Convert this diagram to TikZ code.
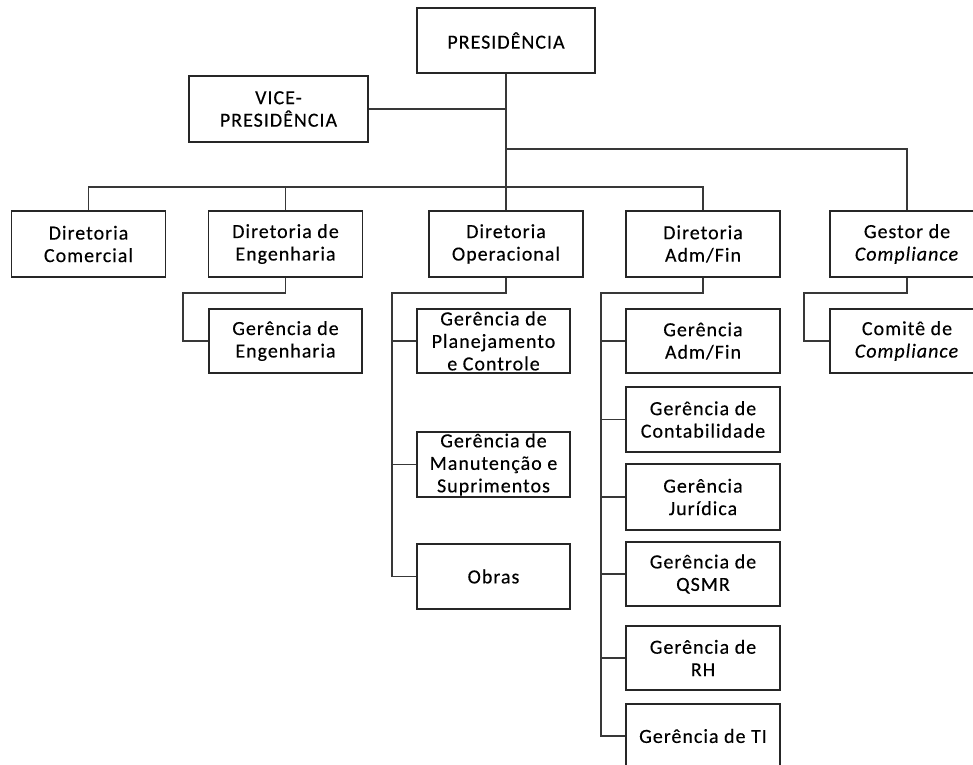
\documentclass[tikz,border=0pt]{standalone}
\usepackage{fontspec}
\setmainfont[LetterSpace=5,FakeBold=0.3]{Carlito}
\begin{document}
\begin{tikzpicture}[x=1pt,y=-1pt,
  box/.style={draw=black!85,line width=1.2pt,fill=white,align=center,inner sep=0pt,
    font=\fontsize{20}{22.5}\selectfont,minimum width=154,minimum height=65},
  conn/.style={draw=black!78,line width=1.1pt}]
\useasboundingbox (0,0) rectangle (973,764);
\begin{scope}
\clip (0,0) rectangle (973,764);
\fill[white] (0,0) rectangle (973,764);
% boxes
\node[box,minimum width=178,minimum height=65] (pres) at (506,40.5) {PRESIDÊNCIA};
\node[box,minimum width=179,minimum height=66] (vice) at (278.5,109) {VICE-\\PRESIDÊNCIA};
\node[box,minimum height=66] (dcom) at (88.5,244) {Diretoria\\Comercial};
\node[box,minimum height=66] (deng) at (285.5,244) {Diretoria de\\Engenharia};
\node[box,minimum height=66] (dop) at (506,244) {Diretoria\\Operacional};
\node[box,minimum height=66] (dadm) at (703,244) {Diretoria\\Adm/Fin};
\node[box,minimum height=66] (gest) at (907,244) {Gestor de\\\textit{Compliance}};
\node[box,minimum width=153,minimum height=64] (geng) at (285.5,341) {Gerência de\\Engenharia};
\node[box,minimum width=153,minimum height=64] (gplan) at (493.5,341) {Gerência de\\Planejamento\\e Controle};
\node[box,minimum width=153,minimum height=65] (gman) at (493.5,464.5) {Gerência de\\Manutenção e\\Suprimentos};
\node[box,minimum width=153,minimum height=65] (obras) at (493.5,576.5) {Obras};
\node[box,minimum height=64] (gadm) at (703,341) {Gerência\\Adm/Fin};
\node[box,minimum height=65] (gcont) at (703,419.5) {Gerência de\\Contabilidade};
\node[box,minimum height=66] (gjur) at (703,497) {Gerência\\Jurídica};
\node[box,minimum height=64] (gqsmr) at (703,574) {Gerência de\\QSMR};
\node[box,minimum height=64] (grh) at (703,658) {Gerência de\\RH};
\node[box,minimum height=64] (gti) at (703,736) {Gerência de TI};
\node[box,minimum height=64] (comite) at (907,341) {Comitê de\\\textit{Compliance}};
% bus coordinates
\coordinate (vj) at (506,109);
\coordinate (cj) at (506,149);
\coordinate (topbus) at (88.5,187);
\coordinate (ebus) at (183,293);
\coordinate (obus) at (392,293);
\coordinate (abus) at (601,293);
\coordinate (cbus) at (804,293);
% connectors
\draw[conn] (pres.south) -- (dop.north);
\draw[conn] (vice.east) -- (vj);
\draw[conn] (cj) -| (gest.north);
\draw[conn] (dcom.north) |- (topbus) -| (dadm.north);
\draw[conn] (deng.north) -- (deng.north |- topbus);
\draw[conn] (deng.south) |- (ebus) |- (geng.west);
\draw[conn] (dop.south) |- (obus) |- (obras.west);
\draw[conn] (obus |- gplan.west) -- (gplan.west);
\draw[conn] (obus |- gman.west) -- (gman.west);
\draw[conn] (dadm.south) |- (abus) |- (gti.west);
\foreach \n in {gadm,gcont,gjur,gqsmr,grh}
  \draw[conn] (abus |- \n.west) -- (\n.west);
\draw[conn] (gest.south) |- (cbus) |- (comite.west);
\end{scope}
\end{tikzpicture}
\end{document}
